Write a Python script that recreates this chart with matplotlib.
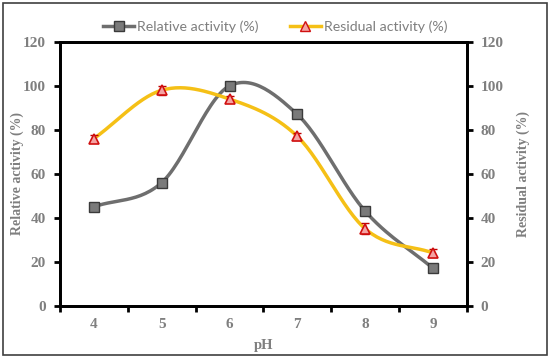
import numpy as np
import matplotlib.pyplot as plt
from matplotlib.patches import Rectangle

ph = [4, 5, 6, 7, 8, 9]
relative = [45, 56, 100, 87, 43, 17]
residual = [76, 98, 94, 77, 35, 24]
residual_err = [1.5, 2.0, 1.5, 1.5, 2.5, 2.0]


def smooth(x, y, n=30):
    # Catmull-Rom style smoothing like Excel's "smoothed line"
    x = np.asarray(x, float)
    y = np.asarray(y, float)
    px = np.concatenate([[2 * x[0] - x[1]], x, [2 * x[-1] - x[-2]]])
    py = np.concatenate([[2 * y[0] - y[1]], y, [2 * y[-1] - y[-2]]])
    xs, ys = [], []
    t = np.linspace(0, 1, n)
    for i in range(1, len(px) - 2):
        p0, p1, p2, p3 = (np.array([px[j], py[j]]) for j in range(i - 1, i + 3))
        c1 = p1 + (p2 - p0) / 6
        c2 = p2 - (p3 - p1) / 6
        b = (((1 - t) ** 3)[:, None] * p1 + (3 * (1 - t) ** 2 * t)[:, None] * c1
             + (3 * (1 - t) * t ** 2)[:, None] * c2 + (t ** 3)[:, None] * p2)
        xs.extend(b[:, 0])
        ys.extend(b[:, 1])
    return np.array(xs), np.array(ys)


gray_txt = '#7f7f7f'
serif = ['Liberation Serif', 'DejaVu Serif']

fig = plt.figure(figsize=(5.5, 3.58), dpi=100)
fig.patches.append(Rectangle((0.006, 0.008), 0.988, 0.984, transform=fig.transFigure,
                             fill=False, edgecolor='#404040', linewidth=1.2))
ax = fig.add_axes([0.109, 0.146, 0.740, 0.737])
ax2 = ax.twinx()

sx, sy = smooth(ph, relative)
ax.plot(sx, sy, color='#6e6e6e', lw=2.5, zorder=2)
ax.plot(ph, relative, ls='none', marker='s', ms=7, mfc='#7a7a7a', mec='#3a3a3a',
        mew=1, zorder=4)

rx, ry = smooth(ph, residual)
ax.plot(rx, ry, color='#f5c016', lw=2.5, zorder=3)
ax.errorbar(ph, residual, yerr=residual_err, ls='none', ecolor='#c00000', elinewidth=1,
            capsize=3, capthick=1, zorder=4)
ax.plot(ph, residual, ls='none', marker='^', ms=7, mfc='#f4a3a3', mec='#d01010',
        mew=1.2, zorder=5)

for a in (ax, ax2):
    a.set_ylim(0, 120)
    a.set_yticks(range(0, 121, 20))
    a.set_xlim(3.5, 9.5)
    for s in a.spines.values():
        s.set_linewidth(2)
        s.set_color('black')
    a.tick_params(axis='y', length=4, width=2, colors='black', labelcolor=gray_txt,
                  labelsize=11, pad=6)

ax.set_xticks([3.5, 4.5, 5.5, 6.5, 7.5, 8.5, 9.5])
ax.set_xticklabels([])
ax.set_xticks(ph, minor=True)
ax.set_xticklabels([str(p) for p in ph], minor=True)
ax.tick_params(axis='x', which='major', length=4, width=2, colors='black')
ax.tick_params(axis='x', which='minor', length=0, labelcolor=gray_txt, labelsize=11, pad=9)

for lab in ax.get_yticklabels() + ax2.get_yticklabels() + ax.get_xticklabels(minor=True):
    lab.set_family(serif)
    lab.set_fontweight('bold')

ax.set_xlabel('pH', family=serif, fontweight='bold', color=gray_txt, fontsize=10.5,
              va='center')
ax.xaxis.set_label_coords(0.5, -0.149)
ax.set_ylabel('Relative activity (%)', family=serif, fontweight='bold', color=gray_txt,
              fontsize=10, va='center')
ax.yaxis.set_label_coords(-0.106, 0.5)
ax2.set_ylabel('Residual activity (%)', family=serif, fontweight='bold', color=gray_txt,
               fontsize=10, va='center')
ax2.yaxis.set_label_coords(1.138, 0.5)

h1 = plt.Line2D([], [], color='#6e6e6e', lw=2.5, marker='s', ms=7, mfc='#7a7a7a', mec='#3a3a3a')
h2 = plt.Line2D([], [], color='#f5c016', lw=2.5, marker='^', ms=7, mfc='#f4a3a3', mec='#d01010')
leg = fig.legend([h1, h2], ['Relative activity (%)', 'Residual activity (%)'], loc='center',
                 bbox_to_anchor=(0.5, 0.925), ncol=2, frameon=False, handlelength=2.2,
                 handletextpad=0.2, columnspacing=2.2, prop={'family': 'Lato', 'size': 10.2})
for t in leg.get_texts():
    t.set_color(gray_txt)

fig.savefig('out.png', dpi=100)
